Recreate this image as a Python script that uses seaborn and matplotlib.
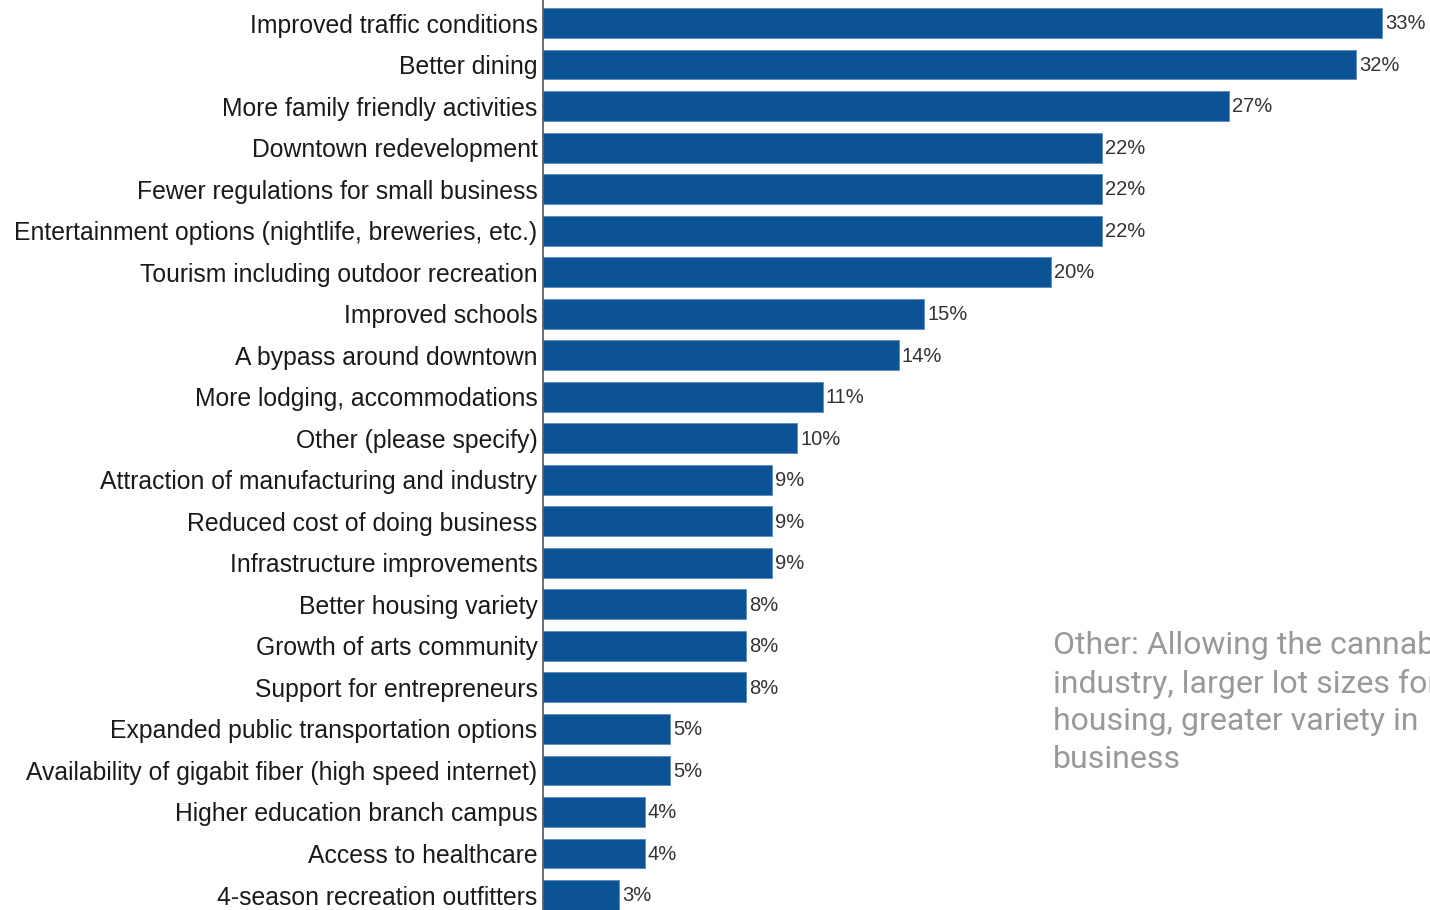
import matplotlib
matplotlib.use("Agg")
import matplotlib.pyplot as plt
import seaborn as sns
import pandas as pd

categories = [
    "Improved traffic conditions",
    "Better dining",
    "More family friendly activities",
    "Downtown redevelopment",
    "Fewer regulations for small business",
    "Entertainment options (nightlife, breweries, etc.)",
    "Tourism including outdoor recreation",
    "Improved schools",
    "A bypass around downtown",
    "More lodging, accommodations",
    "Other (please specify)",
    "Attraction of manufacturing and industry",
    "Reduced cost of doing business",
    "Infrastructure improvements",
    "Better housing variety",
    "Growth of arts community",
    "Support for entrepreneurs",
    "Expanded public transportation options",
    "Availability of gigabit fiber (high speed internet)",
    "Higher education branch campus",
    "Access to healthcare",
    "4-season recreation outfitters",
]
percent = [33, 32, 27, 22, 22, 22, 20, 15, 14, 11, 10, 9, 9, 9, 8, 8, 8, 5, 5, 4, 4, 3]
value_labels = [f"{v}%" for v in percent]
other_note = ("Other: Allowing the cannabis\nindustry, larger lot sizes for\n"
              "housing, greater variety in\nbusiness")

df = pd.DataFrame({"category": categories, "percent": percent})

sns.set_theme(style="white")
plt.rcParams["font.family"] = ["Liberation Sans", "DejaVu Sans"]

fig = plt.figure(figsize=(14.3, 9.1), dpi=100)
ax = fig.add_axes([543 / 1430, 0.0, 1 - 543 / 1430, 1.0])

sns.barplot(data=df, x="percent", y="category", orient="h", color="#0b5394",
            saturation=1, width=0.72, edgecolor="#5a8cc0", linewidth=0.6, ax=ax)

ax.set_xlim(0, 34.9)
ax.set_ylim(21.36, -0.554)
for i, (v, lab) in enumerate(zip(percent, value_labels)):
    ax.text(v + 0.12, i + 0.02, lab, va="center", ha="left", fontsize=14.5,
            color="#333333")

ax.set_xlabel("")
ax.set_ylabel("")
ax.set_xticks([])
ax.tick_params(axis="y", length=0, pad=4, labelsize=17.8, labelcolor="#1a1a1a")
for side in ["top", "right", "bottom"]:
    ax.spines[side].set_visible(False)
ax.spines["left"].set_color("#555555")
ax.spines["left"].set_linewidth(1.2)

fig.text(1053 / 1430, 1 - 631 / 910, other_note, ha="left", va="top",
         fontsize=23.05, color="#999999", family=["Roboto", "DejaVu Sans"],
         linespacing=1.37)

fig.savefig("out.png", dpi=100)
